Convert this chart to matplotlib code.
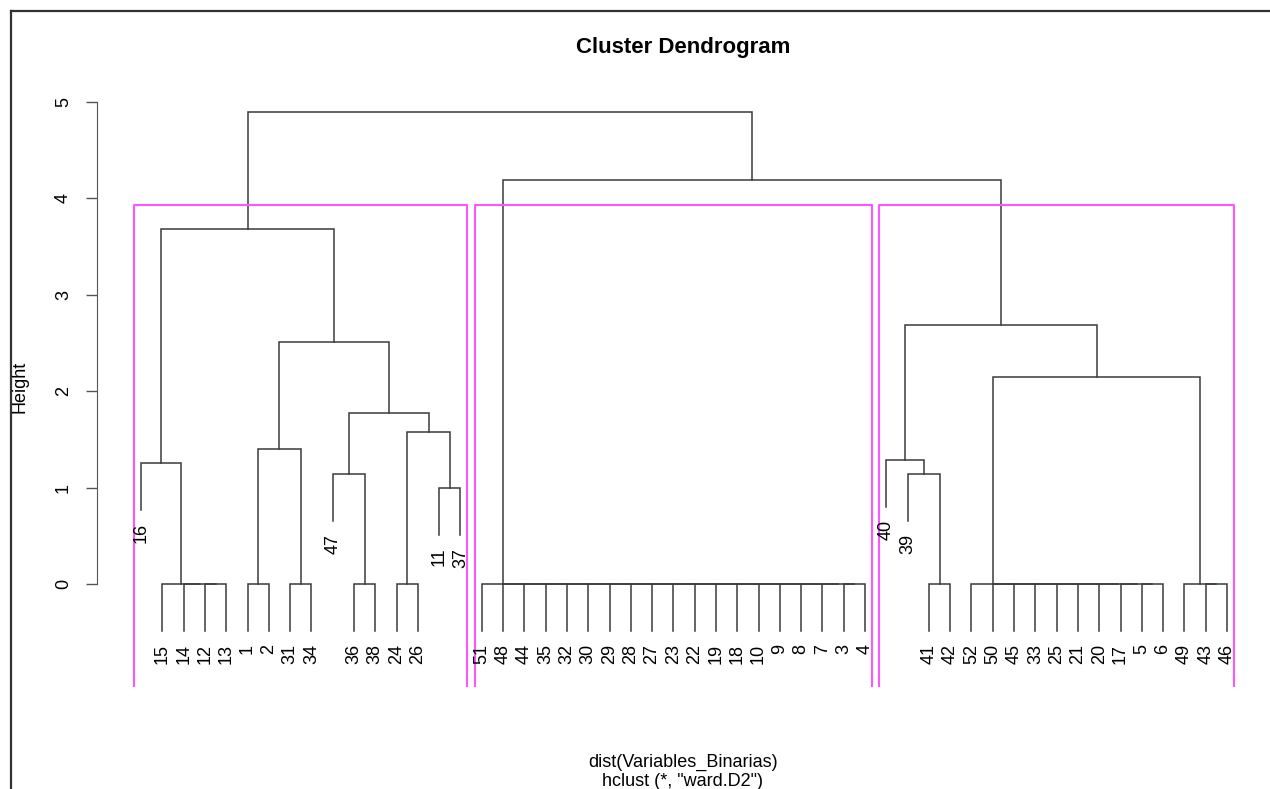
import matplotlib
matplotlib.use("Agg")
import matplotlib.pyplot as plt
from matplotlib.lines import Line2D
import numpy as np

# hclust-style merge table: negative = observation number, positive = earlier merge (1-based)
merge_left = [-12, -14, -15, -1, -31, -36, -24, -3, -7, -8, -9, -10, -18, -19, -22, -23, -27,
              -28, -29, -30, -32, -35, -44, -48, -51, -41, -5, -17, -20, -21, -25, -33, -45,
              -50, -52, -43, -49, -11, -47, -39, -16, -40, 4, 7, 39, 35, 43, 42, 41, 25, 49]
merge_right = [-13, 1, 2, -2, -34, -38, -26, -4, 8, 9, 10, 11, 12, 13, 14, 15, 16,
               17, 18, 19, 20, 21, 22, 23, 24, -42, -6, 27, 28, 29, 30, 31, 32,
               33, 34, -46, 36, -37, 6, 26, 3, 40, 5, 38, 44, 37, 45, 46, 47, 48, 50]
merge_height = [0.0] * 37 + [0.996, 1.141, 1.141, 1.255, 1.286, 1.40, 1.577, 1.774,
                             2.147, 2.51, 2.687, 3.68, 4.19, 4.896]
k_clusters = 3
hang = 0.1

title = "Cluster Dendrogram"
sub_lines = ["dist(Variables_Binarias)", 'hclust (*, "ward.D2")']
y_label = "Height"
y_ticks = [0, 1, 2, 3, 4, 5]

plt.rcParams['font.family'] = ['Liberation Sans', 'DejaVu Sans']

n_merge = len(merge_height)
hang_amt = hang * max(merge_height)


def leaf_order(i):
    out = []
    for c in (merge_left[i], merge_right[i]):
        out.extend([-c] if c < 0 else leaf_order(c - 1))
    return out


order = leaf_order(n_merge - 1)
pos = {obs: j + 1 for j, obs in enumerate(order)}

fig = plt.figure(figsize=(12.7, 7.89), dpi=100)
ax = fig.add_axes([97 / 1270, 1 - 686 / 789, (1260 - 97) / 1270, (686 - 90) / 789])
ax.set_xlim(-1.07, 53.55)
ax.set_ylim(-1.058, 5.124)

node_x = {}
line_col = "#3a3a3a"
for i in range(n_merge):
    h = merge_height[i]
    xs, bottoms = [], []
    for c in (merge_left[i], merge_right[i]):
        if c < 0:
            x = pos[-c]
            yb = h - hang_amt
            ax.annotate(str(-c), (x, yb), xytext=(0, -9), textcoords="offset points",
                        rotation=90, ha="center", va="top", fontsize=13)
        else:
            x = node_x[c - 1]
            yb = merge_height[c - 1]
        xs.append(x)
        bottoms.append(yb)
    ax.plot([xs[0], xs[0], xs[1], xs[1]], [bottoms[0], h, h, bottoms[1]],
            color=line_col, lw=1.1, solid_joinstyle="miter")
    node_x[i] = (xs[0] + xs[1]) / 2

# rect.hclust(k=3)
tops = sorted(merge_height)[::-1]
cut = (tops[k_clusters - 2] + tops[k_clusters - 1]) / 2
groups = []
stack = [n_merge - 1]
while stack:
    i = stack.pop(0)
    if merge_height[i] > cut:
        for c in (merge_left[i], merge_right[i]):
            stack.append(c - 1) if c > 0 else groups.append([-c])
    else:
        groups.append(leaf_order(i))
sizes = sorted([(pos[g[0]], len(g)) for g in groups])
bounds = np.concatenate([[0], np.cumsum([s for _, s in sizes])])
ybot = ax.get_ylim()[0]
for j in range(len(sizes)):
    x0 = bounds[j] + 0.66
    x1 = bounds[j + 1] + 0.33
    ax.plot([x0, x0, x1, x1], [ybot, cut, cut, ybot], color="#ff55ff", lw=1.5, clip_on=False)

for s in ("top", "right", "bottom"):
    ax.spines[s].set_visible(False)
ax.spines["left"].set_bounds(0, 5)
ax.spines["left"].set_color("#555555")
ax.set_xticks([])
ax.set_yticks(y_ticks)
ax.tick_params(axis="y", length=8, width=1, color="#555555", pad=10, labelsize=13)
for lab in ax.get_yticklabels():
    lab.set_rotation(90)
    lab.set_va("center")

fig.text(683 / 1270, 1 - 47 / 789, title, ha="center", va="center", fontsize=16, fontweight="bold")
fig.text(20 / 1270, 1 - 387 / 789, y_label, rotation=90, ha="center", va="center", fontsize=13)
fig.text(683 / 1270, 1 - 762 / 789, sub_lines[0], ha="center", va="center", fontsize=13)
fig.text(683 / 1270, 1 - 781 / 789, sub_lines[1], ha="center", va="center", fontsize=13)

# screenshot frame
fig.add_artist(Line2D([11 / 1270, 1], [1 - 11 / 789] * 2, color="#333333", lw=1.6))
fig.add_artist(Line2D([11 / 1270] * 2, [0, 1 - 11 / 789], color="#333333", lw=1.6))

fig.savefig("out.png", dpi=100)
